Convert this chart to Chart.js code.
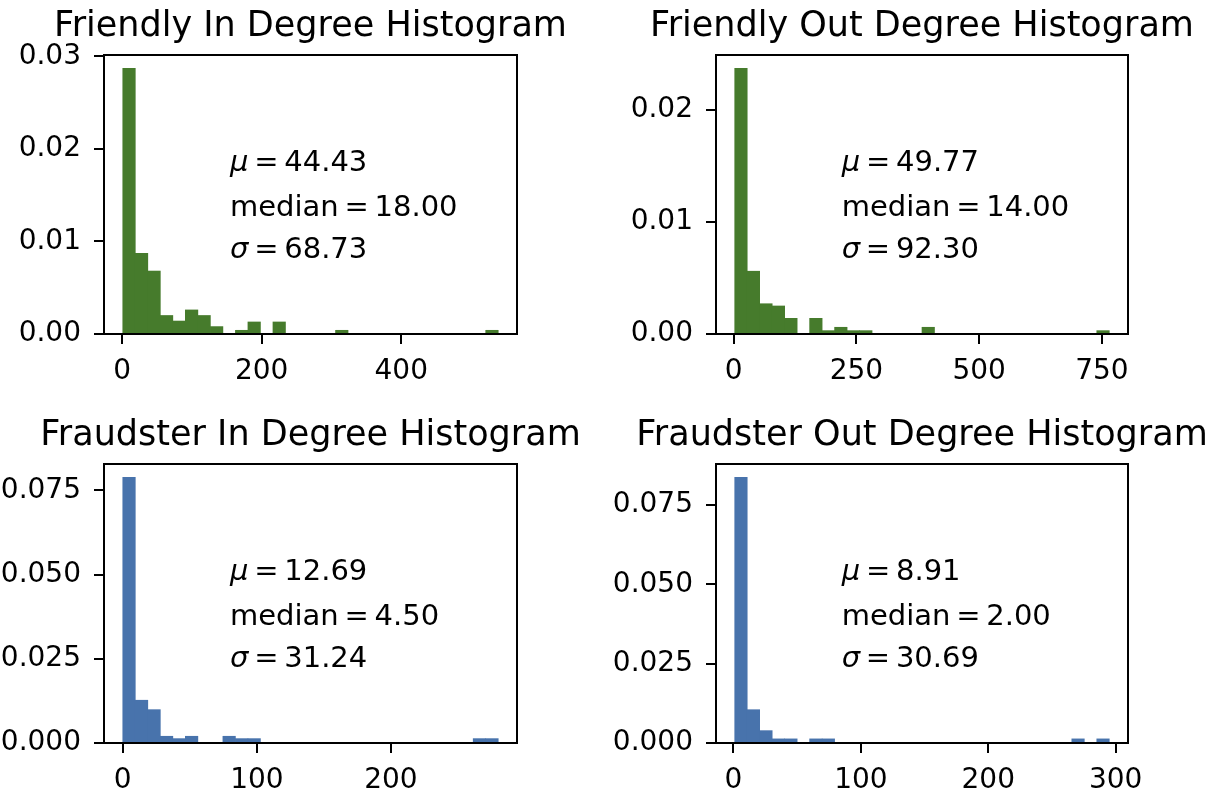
<!DOCTYPE html>
<html>
<head>
<meta charset="utf-8">
<script src="https://cdn.jsdelivr.net/npm/chart.js@4.4.0/dist/chart.umd.min.js"></script>
<style>
  body { margin: 0; background: #fff; width: 1225px; height: 798px; position: relative; overflow: hidden; }
  .panel { position: absolute; }
</style>
</head>
<body>
<div class="panel" style="left:0;top:0;width:600px;height:400px"><canvas id="fin"></canvas></div>
<div class="panel" style="left:600px;top:0;width:625px;height:400px"><canvas id="fout"></canvas></div>
<div class="panel" style="left:0;top:400px;width:600px;height:398px"><canvas id="rin"></canvas></div>
<div class="panel" style="left:600px;top:400px;width:625px;height:398px"><canvas id="rout"></canvas></div>
<script>
// histogram data: [first bin edge, last bin edge] and 30 density heights each
var friendlyInRange = [1, 539];
var friendlyIn = [0.0287, 0.0087, 0.0068, 0.0020, 0.0014, 0.0026, 0.0020, 0.0008, 0, 0.0004,
                  0.0013, 0, 0.0013, 0, 0, 0, 0, 0.0004, 0, 0,
                  0, 0, 0, 0, 0, 0, 0, 0, 0, 0.0004];
var friendlyInStats = ['44.43', '18.00', '68.73'];

var friendlyOutRange = [2, 765];
var friendlyOut = [0.0237, 0.0056, 0.0027, 0.0025, 0.0014, 0, 0.0014, 0.0003, 0.0006, 0.0003,
                   0.0003, 0, 0, 0, 0, 0.0006, 0, 0, 0, 0,
                   0, 0, 0, 0, 0, 0, 0, 0, 0, 0.0003];
var friendlyOutStats = ['49.77', '14.00', '92.30'];

var fraudInRange = [0, 280];
var fraudIn = [0.0789, 0.0127, 0.0099, 0.0020, 0.0013, 0.0020, 0, 0, 0.0020, 0.0013,
               0.0013, 0, 0, 0, 0, 0, 0, 0, 0, 0,
               0, 0, 0, 0, 0, 0, 0, 0, 0.0013, 0.0013];
var fraudInStats = ['12.69', '4.50', '31.24'];

var fraudOutRange = [1, 295];
var fraudOut = [0.0838, 0.0105, 0.0039, 0.0013, 0.0013, 0, 0.0013, 0.0013, 0, 0,
                0, 0, 0, 0, 0, 0, 0, 0, 0, 0,
                0, 0, 0, 0, 0, 0, 0, 0.0013, 0, 0.0013];
var fraudOutStats = ['8.91', '2.00', '30.69'];

// tick labels
var friendlyInX = [0, 200, 400];
var friendlyOutX = [0, 250, 500, 750];
var fraudInX = [0, 100, 200];
var fraudOutX = [0, 100, 200, 300];
var friendlyInY = [0, 0.01, 0.02, 0.03];
var friendlyOutY = [0, 0.01, 0.02];
var fraudY = [0, 0.025, 0.05, 0.075];

var GREEN = '#467b2c';
var BLUE = '#4873ac';
var FONT = '"DejaVu Sans", sans-serif';

Chart.defaults.font.family = FONT;
Chart.defaults.color = '#000';

// title, box round the axes and the stats text
var framePlugin = {
  id: 'frame',
  afterDatasetsDraw: function(chart) {
    var a = chart.chartArea, ctx = chart.ctx;
    ctx.save();
    ctx.strokeStyle = '#000';
    ctx.lineWidth = 2;
    ctx.strokeRect(a.left, a.top, a.right - a.left, a.bottom - a.top);
    ctx.restore();
  },
  afterDraw: function(chart, args, opts) {
    var a = chart.chartArea, ctx = chart.ctx, s = opts.stats;
    ctx.save();
    ctx.fillStyle = '#000';
    // title centred over the axes
    ctx.font = '35px ' + FONT;
    ctx.textAlign = 'center';
    ctx.textBaseline = 'middle';
    ctx.fillText(opts.title, (a.left + a.right) / 2, a.top - 28);

    var x = a.left + 0.305 * (a.right - a.left);
    var eq = '\u2009=\u2009';
    var rows = [['\u03bc', eq + s[0]], ['', 'median' + eq + s[1]], ['\u03c3', eq + s[2]]];
    var base = [116, 161, 203];
    ctx.textAlign = 'left';
    ctx.textBaseline = 'alphabetic';
    rows.forEach(function(r, i) {
      var y = a.top + base[i];
      ctx.font = 'italic 29px ' + FONT;
      ctx.fillText(r[0], x, y);
      var w = r[0] ? ctx.measureText(r[0]).width : 0;
      ctx.font = '29px ' + FONT;
      ctx.fillText(r[1], x + w, y);
    });
    ctx.restore();
  }
};

function makeHist(id, title, range, heights, color, xTicks, yTicks, yDigits, stats, yw, padRight, padTop, xh) {
  var lo = range[0], hi = range[1], R = hi - lo, bw = R / heights.length;
  var pts = heights.map(function(h, i) { return {x: lo + (i + 0.5) * bw, y: h}; });
  var ymax = Math.max.apply(null, heights) * 1.05;
  var axisGrid = {drawOnChartArea: false, drawTicks: true, tickLength: 10, color: '#000', lineWidth: 2, offset: false};

  return new Chart(document.getElementById(id), {
    type: 'bar',
    data: {
      datasets: [{
        data: pts,
        backgroundColor: color,
        borderWidth: 0,
        barPercentage: 1,
        categoryPercentage: 1
      }]
    },
    options: {
      responsive: true,
      maintainAspectRatio: false,
      animation: false,
      layout: {padding: {left: 0, top: padTop, bottom: 0, right: padRight}},
      plugins: {
        legend: {display: false},
        tooltip: {enabled: false},
        title: {display: false},
        frame: {stats: stats, title: title}
      },
      scales: {
        x: {
          type: 'linear',
          offset: false,
          min: lo - 0.05 * R,
          max: hi + 0.05 * R,
          afterFit: function(s) { s.height = xh; },
          afterBuildTicks: function(s) { s.ticks = xTicks.map(function(v) { return {value: v}; }); },
          ticks: {
            color: '#000', font: {size: 28}, padding: 11, maxRotation: 0, autoSkip: false,
            callback: function(v) { return String(v); }
          },
          grid: axisGrid,
          border: {display: true, color: '#000', width: 2}
        },
        y: {
          min: 0,
          max: ymax,
          afterFit: function(s) { s.width = yw; },
          afterBuildTicks: function(s) { s.ticks = yTicks.map(function(v) { return {value: v}; }); },
          ticks: {
            color: '#000', font: {size: 28}, padding: 13, autoSkip: false,
            callback: function(v) { return Number(v).toFixed(yDigits); }
          },
          grid: axisGrid,
          border: {display: true, color: '#000', width: 2}
        }
      }
    },
    plugins: [framePlugin]
  });
}

makeHist('fin', 'Friendly In Degree Histogram', friendlyInRange, friendlyIn, GREEN,
  friendlyInX, friendlyInY, 2, friendlyInStats, 104, 83, 55, 66);
makeHist('fout', 'Friendly Out Degree Histogram', friendlyOutRange, friendlyOut, GREEN,
  friendlyOutX, friendlyOutY, 2, friendlyOutStats, 116, 97, 55, 66);
makeHist('rin', 'Fraudster In Degree Histogram', fraudInRange, fraudIn, BLUE,
  fraudInX, fraudY, 3, fraudInStats, 104, 83, 64, 55);
makeHist('rout', 'Fraudster Out Degree Histogram', fraudOutRange, fraudOut, BLUE,
  fraudOutX, fraudY, 3, fraudOutStats, 116, 97, 64, 55);
</script>
</body>
</html>
